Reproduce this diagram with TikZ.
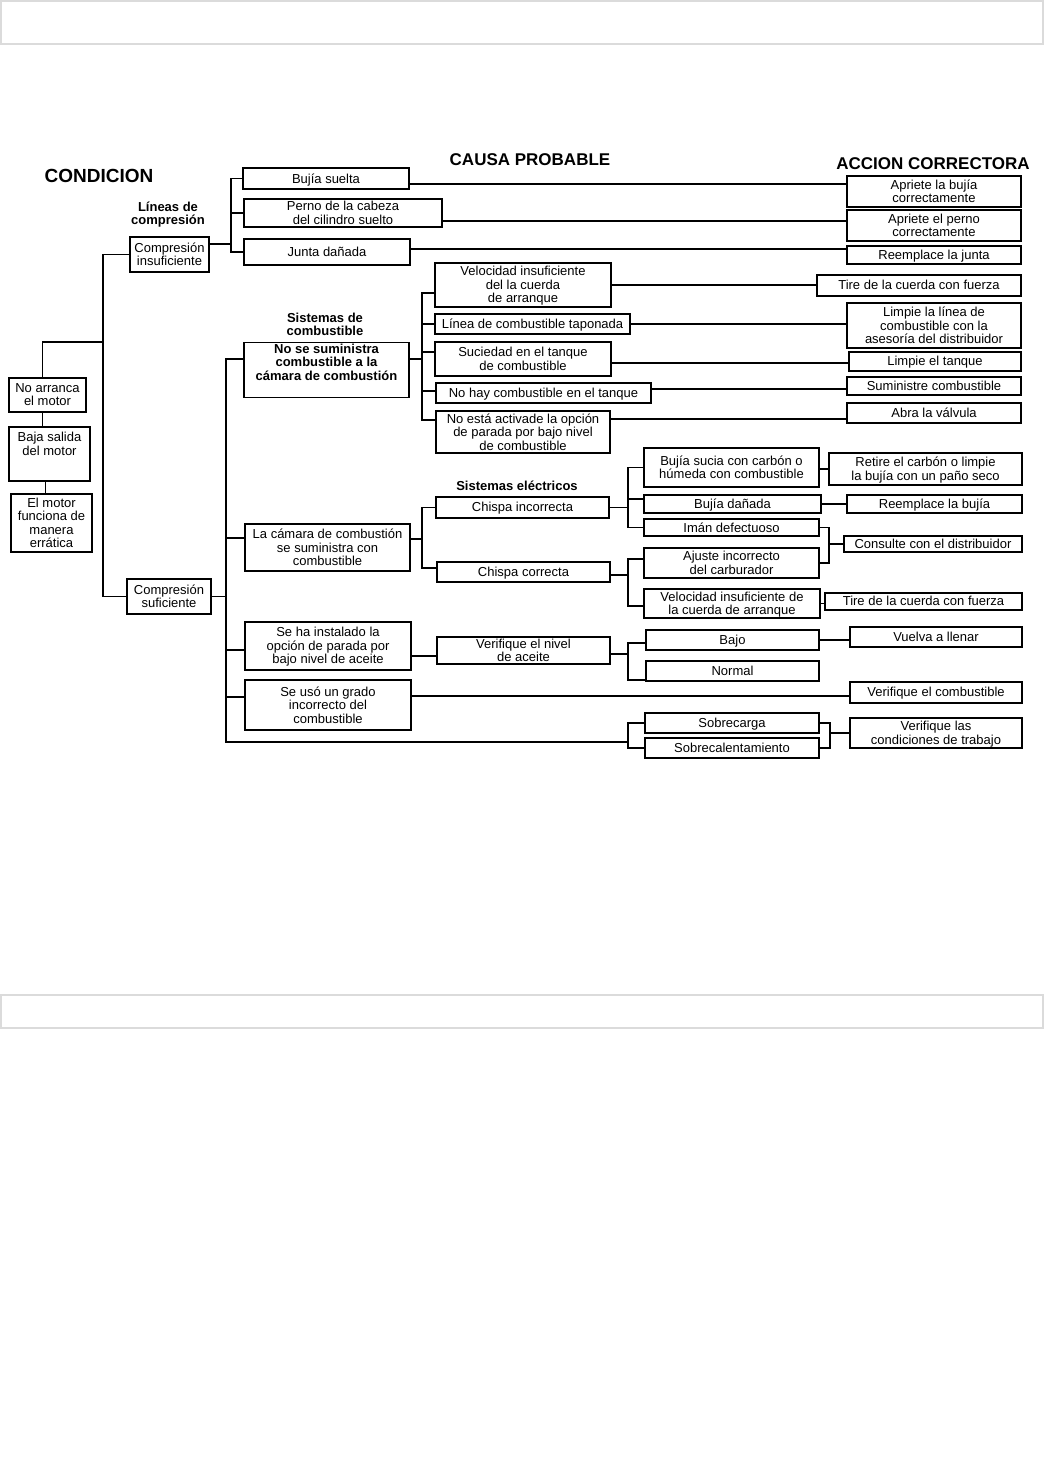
\documentclass[tikz,border=0pt]{standalone}
\usepackage{fontspec}
\setmainfont{Liberation Sans}
\usepackage{tikz}
\newcommand{\cfont}{\fontsize{13}{13.5}\selectfont}

\tikzset{
  box/.style={draw, line width=1.1pt, inner sep=1pt, align=center, font=\cfont, text depth=0.5pt},
  sz/.style 2 args={minimum width=#1, minimum height=#2},
  hdr/.style={font=\bfseries\fontsize{17}{20}\selectfont},
  lbl/.style={font=\bfseries\cfont, align=center},
  wire/.style={line width=1.1pt}
}

\begin{document}
\begin{tikzpicture}[x=1pt, y=-1pt]
            \useasboundingbox (0,0) rectangle (1044,1468);
            \draw[black!14, line width=1.5pt] (1,1) rectangle (1043,44);
            \draw[black!14, line width=1.5pt] (1,995) rectangle (1043,1028);
            % headings
            \node[hdr, font=\bfseries\fontsize{19}{22}\selectfont] (cond) at (99,176) {CONDICION};
            \node[hdr] (causa) at (530,160) {CAUSA PROBABLE};
            \node[hdr] (accion) at (933,163.5) {ACCION CORRECTORA};
            \node[lbl] (lcomp) at (168,214.5) {Líneas de\\compresión};
            \node[lbl] (lcomb) at (325,324.5) {Sistemas de\\combustible};
            \node[lbl] (lelec) at (517,486) {Sistemas eléctricos};
            % condition
            \node[box, sz={77}{34}] (noarr) at (47.5,395) {No arranca\\el motor};
            \node[box, sz={81}{54}, text depth=20pt] (baja) at (49.5,454) {Baja salida\\del motor};
            \node[box, sz={81}{58}] (motor) at (51.5,523) {El motor\\funciona de\\manera\\errática};
            \node[box, sz={79}{35}] (cinsuf) at (169.5,254.5) {Compresión\\insuficiente};
            \node[box, sz={84}{35}] (csuf) at (169,596.5) {Compresión\\suficiente};
            % compression lines
            \node[box, sz={166}{21}] (bujia) at (326,178.5) {Bujía suelta};
            \node[box, sz={198}{28}] (perno) at (343,213) {Perno de la cabeza\\del cilindro suelto};
            \node[box, sz={166}{26}] (junta) at (327,252) {Junta dañada};
            \node[box, sz={174}{31}] (apb) at (934,191.5) {Apriete la bujía\\correctamente};
            \node[box, sz={174}{31}] (app) at (934,225.5) {Apriete el perno\\correctamente};
            \node[box, sz={174}{18}] (rjun) at (934,255) {Reemplace la junta};
            % fuel system
            \node[box, sz={165}{54}, font=\bfseries\cfont, text depth=16pt] (nosum) at (326.5,370) {No se suministra\\combustible a la\\cámara de combustión};
            \node[box, sz={176}{44}] (vel1) at (523,285) {Velocidad insuficiente\\del la cuerda\\de arranque};
            \node[box, sz={195}{20}] (linea) at (532.5,324) {Línea de combustible taponada};
            \node[box, sz={176}{34}] (suc) at (523,359) {Suciedad en el tanque\\de combustible};
            \node[box, sz={215}{20}] (nohay) at (543.5,393) {No hay combustible en el tanque};
            \node[box, sz={174}{42}] (noesta) at (523,432) {No está activade la opción\\de parada por bajo nivel\\de combustible};
            \node[box, sz={204}{21}] (tire1) at (919,285.5) {Tire de la cuerda con fuerza};
            \node[box, sz={174}{45}] (limpl) at (934,325.5) {Limpie la línea de\\combustible con la\\asesoría del distribuidor};
            \node[box, sz={172}{19}] (limpt) at (935,361.5) {Limpie el tanque};
            \node[box, sz={174}{18}] (sumi) at (934,386) {Suministre combustible};
            \node[box, sz={174}{20}] (abra) at (934,413) {Abra la válvula};
            % electrical system
            \node[box, sz={165}{47}] (camara) at (327.5,547.5) {La cámara de combustión\\se suministra con\\combustible};
            \node[box, sz={173}{21}] (chi) at (522.5,507.5) {Chispa incorrecta};
            \node[box, sz={173}{20}] (chc) at (523.5,572) {Chispa correcta};
            \node[box, sz={175}{39}] (bsucia) at (731.5,467.5) {Bujía sucia con carbón o\\húmeda con combustible};
            \node[box, sz={177}{18}] (bdan) at (732.5,504) {Bujía dañada};
            \node[box, sz={175}{17}] (iman) at (731.5,527.5) {Imán defectuoso};
            \node[box, sz={175}{30}] (ajuste) at (731.5,563) {Ajuste incorrecto\\del carburador};
            \node[box, sz={176}{29}] (velins) at (732,603.5) {Velocidad insuficiente de\\la cuerda de arranque};
            \node[box, sz={193}{32}] (retire) at (925.5,469) {Retire el carbón o limpie\\la bujía con un paño seco};
            \node[box, sz={175}{18}] (rbuj) at (934.5,504) {Reemplace la bujía};
            \node[box, sz={178}{16}] (consul) at (933,544) {Consulte con el distribuidor};
            \node[box, sz={197}{17}] (tire2) at (923.5,601.5) {Tire de la cuerda con fuerza};
            % oil level
            \node[box, sz={166}{48}] (instal) at (328,646) {Se ha instalado la\\opción de parada por\\bajo nivel de aceite};
            \node[box, sz={173}{27}] (niv) at (523.5,650.5) {Verifique el nivel\\de aceite};
            \node[box, sz={173}{20}] (bajo) at (732.5,640) {Bajo};
            \node[box, sz={173}{20}] (normal) at (732.5,671) {Normal};
            \node[box, sz={172}{20}] (vuelva) at (936,637) {Vuelva a llenar};
            % fuel grade and load
            \node[box, sz={166}{50}] (seuso) at (328,705) {Se usó un grado\\incorrecto del\\combustible};
            \node[box, sz={172}{21}] (vercomb) at (936,692.5) {Verifique el combustible};
            \node[box, sz={174}{20}] (sobrec) at (732,723) {Sobrecarga};
            \node[box, sz={174}{20}] (sobrecal) at (732,748) {Sobrecalentamiento};
            \node[box, sz={172}{30}] (verlas) at (936,733) {Verifique las\\condiciones de trabajo};
            % junctions
            \coordinate (j0) at (103,342);
            \coordinate (j1) at (231,244);
            \coordinate (j2) at (422,359);
            \coordinate (j3) at (226,596.5);
            \coordinate (j3b) at (226,742);
            \coordinate (j5) at (422,539);
            \coordinate (j6) at (628,507.5);
            \coordinate (j7) at (628,575);
            \coordinate (j8) at (829,544);
            \coordinate (j9) at (628,654);
            \coordinate (j10) at (628,742);
            \coordinate (j11) at (830,733);
            % condition connectors
            \draw[wire] (cinsuf.west) -| (j0) |- (csuf.west);
            \draw[wire] ([xshift=-5pt]noarr.north) |- (j0);
            \draw[wire] ([xshift=-5pt]noarr.south) -- ([xshift=-5pt]noarr.south |- baja.north);
            \draw[wire] ([xshift=-4pt]baja.south) -- ([xshift=-4pt]baja.south |- motor.north);
            % compression connectors
            \draw[wire] ([yshift=10.5pt]cinsuf.east) -- (j1);
            \draw[wire] (bujia.west) -| (j1) |- (junta.west);
            \draw[wire] (perno.west) -- (perno.west -| j1);
            \draw[wire] ([yshift=-5.5pt]bujia.east) -- ([yshift=-5.5pt]bujia.east -| apb.west);
            \draw[wire] ([yshift=-8pt]perno.east) -- ([yshift=-8pt]perno.east -| app.west);
            \draw[wire] ([yshift=3pt]junta.east) -- ([yshift=3pt]junta.east -| rjun.west);
            % fuel connectors
            \draw[wire] ([yshift=11pt]nosum.east) -- (j2);
            \draw[wire] ([yshift=-8pt]vel1.west) -| (j2) |- ([yshift=12pt]noesta.west);
            \draw[wire] (linea.west) -- (linea.west -| j2);
            \draw[wire] ([yshift=7pt]suc.west) -- ([yshift=7pt]suc.west -| j2);
            \draw[wire] ([yshift=2pt]nohay.west) -- ([yshift=2pt]nohay.west -| j2);
            \draw[wire] (vel1.east) -- (vel1.east -| tire1.west);
            \draw[wire] (linea.east) -- (linea.east -| limpl.west);
            \draw[wire] ([yshift=-4pt]suc.east) -- ([yshift=-4pt]suc.east -| limpt.west);
            \draw[wire] ([yshift=4pt]nohay.east) -- ([yshift=4pt]nohay.east -| sumi.west);
            \draw[wire] ([yshift=13pt]noesta.east) -- ([yshift=13pt]noesta.east -| abra.west);
            % main bus
            \draw[wire] (csuf.east) -- (j3);
            \draw[wire] ([yshift=11pt]nosum.west) -| (j3b) -- (j10);
            \draw[wire] ([yshift=9.5pt]camara.west) -- ([yshift=9.5pt]camara.west -| j3);
            \draw[wire] ([yshift=-4pt]instal.west) -- ([yshift=-4pt]instal.west -| j3);
            \draw[wire] ([yshift=8pt]seuso.west) -- ([yshift=8pt]seuso.west -| j3);
            % electrical connectors
            \draw[wire] ([yshift=8.5pt]camara.east) -- (j5);
            \draw[wire] (chi.west) -| (j5) |- ([yshift=4pt]chc.west);
            \draw[wire] (chi.east) -- (j6);
            \draw[wire] (bsucia.west) -| (j6) |- (iman.west);
            \draw[wire] ([yshift=5pt]bdan.west) -- ([yshift=5pt]bdan.west -| j6);
            \draw[wire] ([yshift=-3pt]chc.east) -- (j7);
            \draw[wire] ([yshift=4pt]ajuste.west) -| (j7) |- ([yshift=-2.5pt]velins.west);
            \draw[wire] ([yshift=-1.5pt]bsucia.east) -- ([yshift=-1.5pt]bsucia.east -| retire.west);
            \draw[wire] (bdan.east) -- (bdan.east -| rbuj.west);
            \draw[wire] (iman.east) -| (j8) |- (ajuste.east);
            \draw[wire] (j8) -- (consul.west);
            \draw[wire] (velins.east) -- (velins.east -| tire2.west);
            % oil connectors
            \draw[wire] ([yshift=-10pt]instal.east) -- ([yshift=-10pt]instal.east -| niv.west);
            \draw[wire] ([yshift=-3.5pt]niv.east) -- (j9);
            \draw[wire] ([yshift=-3pt]bajo.west) -| (j9) |- ([yshift=-9pt]normal.west);
            \draw[wire] (bajo.east) -- (bajo.east -| vuelva.west);
            % grade and load connectors
            \draw[wire] ([yshift=9pt]seuso.east) -- ([yshift=9pt]seuso.east -| vercomb.west);
            \draw[wire] (sobrec.west) -| (j10) |- (sobrecal.west);
            \draw[wire] (sobrec.east) -| (j11) |- (sobrecal.east);
            \draw[wire] (j11) -- (verlas.west);
        \end{tikzpicture}
\end{document}
